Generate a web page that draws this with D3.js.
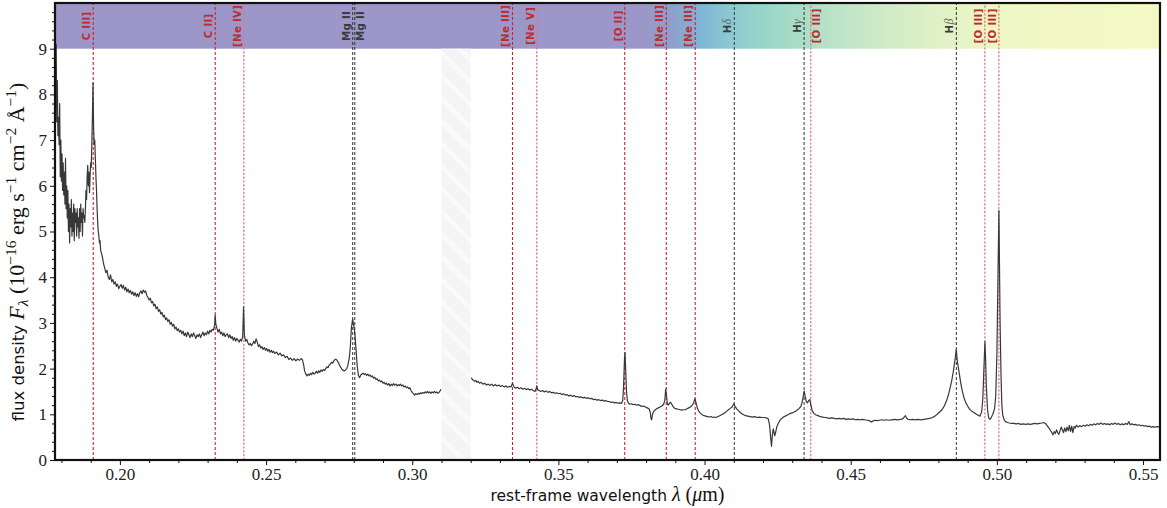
<!DOCTYPE html>
<html>
<head>
<meta charset="utf-8">
<script src="https://cdn.jsdelivr.net/npm/d3@7"></script>
<style>
  body { margin: 0; background: #fff; }
  svg { display: block; }
</style>
</head>
<body>
<svg id="chart" width="1167" height="508"></svg>
<script>
// ---------------- data ----------------
const xTickValues = [0.20, 0.25, 0.30, 0.35, 0.40, 0.45, 0.50, 0.55];
const yTickValues = [0, 1, 2, 3, 4, 5, 6, 7, 8, 9];

// emission-line markers (rest wavelength in micron)
const lineLabels = ["C III]", "C II]", "[Ne IV]", "Mg II", "Mg II", "[Ne III]", "[Ne V]", "[O II]",
                    "[Ne III]", "[Ne III]", "H\u03b4", "H\u03b3", "[O III]", "H\u03b2", "[O III]", "[O III]"];
const lineWaves  = [0.19087, 0.2326, 0.2424, 0.27964, 0.28035, 0.33430, 0.34260, 0.37270,
                    0.38690, 0.39680, 0.41017, 0.43405, 0.43632, 0.48613, 0.49589, 0.50068];
const lineKinds  = ["red", "red", "pale", "black", "black", "red", "pale", "red",
                    "red", "red", "black", "black", "pale", "black", "pale", "pale"];

// colour band along the top (wavelength, colour)
const bandStopWaves  = [0.1778, 0.378, 0.388, 0.398, 0.410, 0.424, 0.450, 0.476, 0.500, 0.5558];
const bandStopColors = ["#9c97c8", "#9c97c8", "#8f9fcb", "#7fb3d6", "#8ecbd2", "#9dd8c7",
                        "#c3e6c8", "#ddf0c6", "#eef7c5", "#f3f8c6"];

// masked wavelength interval
const maskRange = [0.310, 0.320];

// observed spectrum: [wavelength (micron), F_lambda (1e-16 erg/s/cm2/A)]
const spectrum = [
[0.1778,9.55],[0.1780,8.6],[0.1782,9.1],[0.1784,7.4],[0.1786,8.3],[0.1788,7.1],[0.1790,7.5],[0.1792,6.9],
[0.1794,7.8],[0.1796,6.2],[0.1798,7.0],[0.1800,6.1],[0.1802,6.7],[0.1804,5.9],[0.1806,6.5],[0.1808,5.8],
[0.1810,6.3],[0.1812,5.6],[0.1814,6.6],[0.1816,5.5],[0.1818,6.0],[0.1820,5.3],[0.1822,5.9],[0.1824,5.0],
[0.1826,5.6],[0.1828,4.75],[0.1830,5.5],[0.1832,5.1],[0.1834,5.7],[0.1836,4.9],[0.1838,5.4],[0.1840,5.0],
[0.1842,5.6],[0.1844,4.8],[0.1846,5.5],[0.1848,5.2],[0.1850,5.4],[0.1852,4.9],[0.1854,5.5],[0.1856,5.1],
[0.1858,5.3],[0.1860,4.85],[0.1862,5.5],[0.1864,5.0],[0.1866,5.6],[0.1868,5.2],[0.1870,5.4],[0.1872,4.9],
[0.1874,5.5],[0.1876,5.3],[0.1878,5.35],[0.1880,5.2],[0.1882,5.5],[0.1884,5.9],[0.1886,5.7],[0.1888,6.2],
[0.1890,6.45],[0.1892,6.0],[0.1894,6.3],[0.1896,5.85],[0.1898,6.2],[0.1900,6.5],[0.1902,6.4],[0.1904,6.9],
[0.1906,7.5],[0.1908,8.25],[0.1910,7.3],[0.1912,6.9],[0.1914,7.0],[0.1916,6.6],[0.1918,6.2],[0.1920,5.9],
[0.1922,5.5],[0.1924,5.2],[0.1926,5.0],[0.1928,4.9],[0.1930,4.75],[0.1932,4.8],[0.1934,4.6],[0.1936,4.55],
[0.1940,4.45],[0.1944,4.3],[0.1948,4.2],[0.1952,4.1],[0.1956,4.15],[0.1960,4.0],[0.1964,3.95],[0.1968,4.05],
[0.1972,3.9],[0.1976,3.95],[0.1980,3.85],[0.1984,3.9],[0.1988,3.8],[0.1992,3.85],[0.1996,3.75],[0.2000,3.8],
[0.2004,3.84],[0.2008,3.76],[0.2012,3.82],[0.2016,3.72],[0.2020,3.78],[0.2024,3.68],[0.2028,3.74],[0.2032,3.66],
[0.2036,3.71],[0.2040,3.63],[0.2044,3.68],[0.2048,3.6],[0.2052,3.66],[0.2056,3.58],[0.2060,3.64],[0.2064,3.57],
[0.2068,3.66],[0.2072,3.7],[0.2076,3.64],[0.2080,3.72],[0.2084,3.67],[0.2088,3.7],[0.2092,3.6],[0.2096,3.56],
[0.2100,3.5],[0.2104,3.54],[0.2108,3.44],[0.2112,3.47],[0.2116,3.37],[0.2120,3.41],[0.2124,3.31],[0.2128,3.35],
[0.2132,3.25],[0.2136,3.29],[0.2140,3.19],[0.2144,3.23],[0.2148,3.13],[0.2152,3.17],[0.2156,3.07],[0.2160,3.11],
[0.2164,3.03],[0.2168,3.07],[0.2172,2.97],[0.2176,3.01],[0.2180,2.93],[0.2184,2.97],[0.2188,2.87],[0.2192,2.91],
[0.2196,2.83],[0.2200,2.87],[0.2204,2.8],
[0.2208,2.84],[0.2212,2.76],[0.2216,2.82],[0.2220,2.72],[0.2224,2.78],[0.2228,2.7],[0.2232,2.8],[0.2236,2.74],
[0.2240,2.68],[0.2244,2.76],[0.2248,2.7],[0.2252,2.78],[0.2256,2.72],[0.2260,2.66],[0.2264,2.74],[0.2268,2.7],
[0.2272,2.76],[0.2276,2.68],[0.2280,2.74],[0.2284,2.8],[0.2288,2.72],[0.2292,2.78],[0.2296,2.74],[0.2300,2.82],
[0.2304,2.76],[0.2308,2.84],[0.2312,2.8],[0.2316,2.86],[0.2320,2.84],[0.2324,2.95],[0.2326,3.17],[0.2328,2.98],
[0.2332,2.88],[0.2336,2.8],[0.2340,2.86],[0.2344,2.76],[0.2348,2.8],[0.2352,2.72],[0.2356,2.78],[0.2360,2.7],
[0.2364,2.74],[0.2368,2.76],[0.2372,2.68],[0.2376,2.74],[0.2380,2.66],[0.2384,2.7],[0.2388,2.62],[0.2392,2.68],
[0.2396,2.6],[0.2400,2.66],[0.2404,2.62],[0.2408,2.58],[0.2412,2.64],[0.2416,2.6],[0.2420,2.7],[0.2423,3.35],
[0.2426,2.72],[0.2430,2.6],[0.2434,2.64],[0.2438,2.56],[0.2442,2.52],[0.2446,2.55],[0.2450,2.5],[0.2454,2.54],
[0.2458,2.6],[0.2462,2.55],[0.2466,2.65],[0.2470,2.58],[0.2474,2.48],[0.2478,2.52],[0.2482,2.45],[0.2486,2.48],
[0.2490,2.42],[0.2494,2.46],[0.2498,2.4],[0.2502,2.44],[0.2506,2.38],[0.2510,2.42],[0.2514,2.36],[0.2518,2.4],
[0.2522,2.35],[0.2526,2.38],[0.2530,2.33],[0.2536,2.36],[0.2542,2.3],[0.2548,2.34],[0.2554,2.28],[0.2560,2.3],
[0.2566,2.24],[0.2572,2.27],[0.2578,2.2],[0.2584,2.23],[0.2590,2.18],[0.2596,2.22],[0.2602,2.17],[0.2608,2.21],
[0.2614,2.18],[0.2620,2.22],[0.2624,2.2],[0.2628,2.1],[0.2632,1.95],[0.2636,1.88],[0.2640,1.84],[0.2644,1.88],
[0.2648,1.85],[0.2652,1.9],[0.2656,1.87],[0.2660,1.92],[0.2664,1.88],[0.2668,1.9],[0.2672,1.94],[0.2676,1.9],
[0.2680,1.95],[0.2684,1.92],[0.2688,1.97],[0.2692,1.94],[0.2696,1.98],[0.2700,1.96],[0.2704,2.0],[0.2708,2.04],
[0.2712,2.02],[0.2716,2.08],[0.2720,2.1],[0.2724,2.14],[0.2728,2.12],[0.2732,2.17],[0.2736,2.2],[0.2740,2.2],
[0.2744,2.17],[0.2748,2.12],[0.2752,2.07],[0.2756,2.02],[0.2760,1.98],[0.2764,1.96],[0.2768,1.95],[0.2772,1.97],
[0.2776,2.0],[0.2780,2.08],[0.2784,2.2],[0.2788,2.45],[0.2792,2.9],[0.2796,3.08],[0.2800,2.95],[0.2804,2.75],
[0.2808,2.4],[0.2812,2.05],[0.2816,1.85],[0.2820,1.8],[0.2824,1.86],[0.2828,1.88],[0.2832,1.9],[0.2836,1.87],
[0.2840,1.89],[0.2844,1.85],[0.2848,1.88],[0.2852,1.84],[0.2856,1.86],[0.2860,1.82],[0.2864,1.84],[0.2868,1.79],
[0.2872,1.81],[0.2876,1.76],[0.2880,1.78],[0.2884,1.73],[0.2888,1.75],[0.2892,1.71],[0.2896,1.73],[0.2900,1.68],
[0.2904,1.7],[0.2908,1.66],[0.2912,1.68],[0.2916,1.64],[0.2920,1.67],[0.2924,1.62],[0.2928,1.66],[0.2932,1.63],
[0.2936,1.67],[0.2940,1.64],[0.2944,1.66],[0.2948,1.62],[0.2952,1.65],[0.2956,1.63],[0.2960,1.66],[0.2964,1.62],
[0.2968,1.64],[0.2972,1.6],[0.2976,1.62],[0.2980,1.58],[0.2984,1.6],[0.2988,1.56],[0.2992,1.58],[0.2996,1.52],
[0.3000,1.48],[0.3004,1.45],[0.3008,1.42],[0.3012,1.45],[0.3016,1.43],[0.3020,1.46],[0.3024,1.44],[0.3028,1.47],
[0.3032,1.45],[0.3036,1.48],[0.3040,1.46],[0.3044,1.49],[0.3048,1.47],[0.3052,1.5],[0.3056,1.47],[0.3060,1.49],
[0.3064,1.46],[0.3068,1.49],[0.3072,1.47],[0.3076,1.5],[0.3080,1.47],[0.3084,1.49],[0.3088,1.46],[0.3092,1.48],
[0.3096,1.52],[0.3098,1.55],
[0.3202,1.8],[0.3206,1.76],[0.3210,1.74],[0.3214,1.72],[0.3218,1.74],[0.3222,1.7],[0.3226,1.72],[0.3230,1.68],
[0.3236,1.7],[0.3242,1.66],[0.3248,1.68],[0.3254,1.64],[0.3260,1.66],[0.3266,1.63],[0.3272,1.66],[0.3278,1.62],
[0.3284,1.65],[0.3290,1.62],[0.3296,1.64],[0.3302,1.61],[0.3308,1.63],[0.3314,1.6],[0.3320,1.62],[0.3326,1.59],
[0.3332,1.61],[0.3338,1.6],[0.3343,1.68],[0.3348,1.6],[0.3354,1.57],[0.3360,1.59],[0.3366,1.56],[0.3372,1.58],
[0.3378,1.55],[0.3384,1.57],[0.3390,1.54],[0.3396,1.56],[0.3402,1.53],[0.3408,1.55],[0.3414,1.52],[0.3420,1.5],
[0.3424,1.56],[0.3426,1.62],[0.3429,1.54],[0.3434,1.52],[0.3440,1.5],[0.3446,1.52],[0.3452,1.49],[0.3458,1.51],
[0.3464,1.48],[0.3470,1.5],[0.3476,1.47],[0.3482,1.48],[0.3488,1.46],[0.3494,1.47],[0.3500,1.45],[0.3506,1.46],
[0.3512,1.43],[0.3518,1.45],[0.3524,1.42],[0.3530,1.43],[0.3536,1.4],[0.3542,1.42],[0.3548,1.39],[0.3554,1.41],
[0.3560,1.38],[0.3566,1.39],[0.3572,1.37],[0.3578,1.38],[0.3584,1.36],[0.3590,1.37],[0.3596,1.35],[0.3602,1.36],
[0.3608,1.34],[0.3614,1.35],[0.3620,1.32],[0.3626,1.33],[0.3632,1.31],[0.3638,1.32],[0.3644,1.3],[0.3650,1.31],
[0.3656,1.29],[0.3662,1.3],[0.3668,1.28],[0.3674,1.28],[0.3680,1.26],[0.3686,1.27],[0.3692,1.25],[0.3698,1.26],
[0.3704,1.24],[0.3710,1.25],[0.3716,1.24],[0.3720,1.3],[0.3723,1.6],[0.3726,2.2],[0.3728,2.35],[0.3730,2.0],
[0.3733,1.5],[0.3736,1.3],[0.3740,1.24],
[0.3744,1.22],[0.3750,1.23],[0.3756,1.21],[0.3762,1.22],[0.3768,1.2],[0.3774,1.21],[0.3780,1.19],[0.3786,1.17],
[0.3792,1.18],[0.3798,1.16],[0.3804,1.14],[0.3810,1.12],[0.3814,1.05],[0.3817,0.9],[0.3819,0.88],[0.3822,1.0],
[0.3826,1.06],[0.3830,1.09],[0.3836,1.12],[0.3842,1.14],[0.3848,1.16],[0.3854,1.18],[0.3860,1.22],[0.3864,1.3],
[0.3867,1.55],[0.3870,1.4],[0.3873,1.22],[0.3876,1.2],[0.3880,1.24],[0.3884,1.26],[0.3888,1.22],[0.3892,1.17],
[0.3898,1.13],[0.3904,1.12],[0.3910,1.11],[0.3916,1.1],[0.3922,1.09],[0.3928,1.1],[0.3934,1.1],[0.3940,1.12],
[0.3946,1.14],[0.3952,1.16],[0.3958,1.2],[0.3963,1.26],[0.3967,1.34],[0.3971,1.25],[0.3976,1.12],[0.3980,1.07],
[0.3986,1.02],[0.3992,0.99],[0.3998,0.97],[0.4004,0.96],[0.4010,0.95],[0.4016,0.94],[0.4022,0.95],[0.4028,0.93],
[0.4034,0.94],[0.4040,0.93],[0.4046,0.95],[0.4052,0.97],[0.4058,0.99],[0.4064,1.01],[0.4070,1.04],[0.4076,1.07],
[0.4082,1.1],[0.4088,1.13],[0.4094,1.16],[0.4100,1.23],[0.4104,1.18],[0.4110,1.12],[0.4116,1.08],[0.4122,1.04],
[0.4128,1.01],[0.4134,0.99],[0.4140,0.97],[0.4148,0.96],[0.4156,0.95],[0.4164,0.94],[0.4172,0.95],[0.4180,0.93],
[0.4188,0.94],[0.4196,0.93],[0.4204,0.93],[0.4212,0.92],[0.4218,0.9],[0.4222,0.78],[0.4226,0.5],[0.4229,0.3],
[0.4232,0.55],[0.4235,0.68],[0.4238,0.6],[0.4240,0.53],[0.4243,0.6],[0.4247,0.72],[0.4252,0.8],[0.4258,0.87],
[0.4264,0.91],[0.4270,0.94],[0.4276,0.96],[0.4282,0.98],[0.4288,1.0],[0.4294,1.02],[0.4300,1.03],[0.4306,1.05],
[0.4312,1.07],[0.4318,1.1],[0.4324,1.13],[0.4330,1.18],[0.4335,1.3],[0.4339,1.45],[0.4341,1.51],[0.4344,1.4],
[0.4348,1.28],[0.4352,1.25],[0.4356,1.3],[0.4360,1.32],[0.4364,1.2],[0.4368,1.08],[0.4374,1.02],[0.4380,0.99],
[0.4388,0.97],[0.4396,0.95],[0.4404,0.94],[0.4412,0.93],[0.4420,0.92],[0.4428,0.91],[0.4436,0.92],[0.4444,0.91],
[0.4452,0.9],[0.4460,0.91],[0.4468,0.9],[0.4476,0.91],[0.4484,0.89],[0.4492,0.9],[0.4500,0.89],[0.4508,0.9],
[0.4516,0.88],[0.4524,0.89],[0.4532,0.88],[0.4540,0.89],[0.4548,0.88],[0.4556,0.87],[0.4564,0.86],[0.4570,0.83],
[0.4576,0.85],[0.4582,0.87],[0.4590,0.86],[0.4598,0.87],[0.4606,0.88],[0.4614,0.87],[0.4622,0.88],[0.4630,0.87],
[0.4640,0.88],[0.4650,0.89],[0.4660,0.88],[0.4670,0.89],[0.4678,0.9],[0.4684,0.95],[0.4687,0.97],[0.4691,0.92],
[0.4696,0.89],[0.4704,0.88],[0.4712,0.89],[0.4720,0.88],[0.4730,0.89],[0.4740,0.88],[0.4750,0.89],[0.4760,0.9],
[0.4770,0.91],[0.4780,0.93],[0.4788,0.96],[0.4796,1.0],[0.4804,1.05],[0.4812,1.1],[0.4820,1.18],[0.4828,1.3],
[0.4834,1.42],[0.4840,1.58],[0.4846,1.75],[0.4852,1.98],[0.4857,2.2],[0.4861,2.42],[0.4865,2.15],[0.4870,1.95],
[0.4876,1.7],[0.4882,1.5],[0.4888,1.35],[0.4894,1.25],[0.4900,1.18],[0.4906,1.12],[0.4912,1.08],[0.4918,1.05],
[0.4924,1.03],[0.4930,1.0],[0.4936,0.98],[0.4942,0.96],[0.4948,1.05],[0.4952,1.35],[0.4955,1.9],[0.4958,2.4],
[0.4959,2.59],[0.4961,2.3],[0.4964,1.6],[0.4968,1.1],[0.4972,0.92],[0.4976,0.89],[0.4980,0.92],[0.4986,1.0],
[0.4992,1.12],[0.4996,1.4],[0.5000,2.3],[0.5003,3.7],[0.5005,4.6],[0.5007,5.46],[0.5009,4.2],[0.5011,3.0],
[0.5014,1.9],[0.5017,1.2],[0.5020,0.98],[0.5025,0.88],[0.5030,0.84],[0.5036,0.82],[0.5042,0.81],[0.5050,0.8],
[0.5058,0.8],[0.5066,0.79],[0.5074,0.8],[0.5082,0.78],[0.5090,0.79],[0.5098,0.78],[0.5106,0.79],[0.5114,0.78],
[0.5122,0.79],[0.5130,0.8],[0.5138,0.79],[0.5146,0.8],[0.5154,0.81],[0.5160,0.82],[0.5166,0.8],[0.5172,0.75],
[0.5178,0.7],[0.5184,0.64],[0.5188,0.6],[0.5192,0.55],[0.5196,0.62],[0.5200,0.58],[0.5204,0.66],[0.5208,0.6],
[0.5212,0.56],[0.5216,0.64],[0.5220,0.72],[0.5224,0.66],[0.5228,0.6],[0.5232,0.7],[0.5236,0.62],[0.5240,0.72],
[0.5244,0.64],[0.5248,0.76],[0.5252,0.62],[0.5256,0.74],[0.5260,0.6],[0.5264,0.73],[0.5268,0.7],[0.5272,0.76],
[0.5278,0.72],[0.5284,0.75],[0.5290,0.73],[0.5296,0.76],[0.5302,0.74],[0.5308,0.77],[0.5314,0.75],[0.5320,0.78],
[0.5326,0.76],[0.5332,0.79],[0.5338,0.77],[0.5344,0.8],[0.5350,0.78],[0.5356,0.81],[0.5362,0.78],[0.5368,0.8],
[0.5374,0.78],[0.5380,0.79],[0.5386,0.77],[0.5392,0.8],[0.5398,0.78],[0.5404,0.81],[0.5410,0.78],[0.5416,0.8],
[0.5422,0.77],[0.5428,0.79],[0.5434,0.77],[0.5440,0.8],[0.5446,0.78],[0.5452,0.84],[0.5456,0.77],[0.5462,0.79],
[0.5468,0.77],[0.5474,0.78],[0.5480,0.76],[0.5486,0.77],[0.5492,0.75],[0.5498,0.76],[0.5504,0.74],[0.5510,0.75],
[0.5516,0.73],[0.5522,0.74],[0.5528,0.72],[0.5534,0.73],[0.5540,0.72],[0.5550,0.73],[0.5558,0.72]
];

// ---------------- layout ----------------
const svg = d3.select("#chart");
const plot = { left: 55, right: 1160, top: 3, bottom: 460 };

const x = d3.scaleLinear().domain([0.1778, 0.5558]).range([plot.left, plot.right]);
const y = d3.scaleLinear().domain([0, 10]).range([plot.bottom, plot.top]);

const serif = "'Liberation Serif', 'Times New Roman', serif";
const sans = "'DejaVu Sans', 'Open Sans', sans-serif";

const defs = svg.append("defs");
defs.append("clipPath").attr("id", "plotClip")
  .append("rect")
  .attr("x", plot.left).attr("y", plot.top)
  .attr("width", plot.right - plot.left).attr("height", plot.bottom - plot.top);

// gradient for the top band
const grad = defs.append("linearGradient")
  .attr("id", "bandGrad")
  .attr("gradientUnits", "userSpaceOnUse")
  .attr("x1", x(bandStopWaves[0])).attr("x2", x(bandStopWaves[bandStopWaves.length - 1]))
  .attr("y1", 0).attr("y2", 0);
bandStopWaves.forEach((w, i) => {
  grad.append("stop")
    .attr("offset", (w - bandStopWaves[0]) / (bandStopWaves[bandStopWaves.length - 1] - bandStopWaves[0]))
    .attr("stop-color", bandStopColors[i]);
});

// hatch for the masked interval
const hatch = defs.append("pattern")
  .attr("id", "hatch").attr("patternUnits", "userSpaceOnUse")
  .attr("width", 16).attr("height", 16)
  .attr("patternTransform", "rotate(-45)");
hatch.append("rect").attr("width", 16).attr("height", 16).attr("fill", "#f4f4f4");
hatch.append("rect").attr("x", 0).attr("width", 5).attr("height", 16).attr("fill", "#fafafa");

const g = svg.append("g").attr("clip-path", "url(#plotClip)");

// top band
g.append("rect")
  .attr("x", plot.left).attr("y", y(10))
  .attr("width", plot.right - plot.left).attr("height", y(9) - y(10))
  .attr("fill", "url(#bandGrad)");

// masked interval
g.append("rect")
  .attr("x", x(maskRange[0])).attr("y", y(9))
  .attr("width", x(maskRange[1]) - x(maskRange[0])).attr("height", y(0) - y(9))
  .attr("fill", "url(#hatch)");

// line markers
const lineStyle = {
  red:   { stroke: "#c0262d", dash: "3,2", width: 1.1 },
  pale:  { stroke: "#df7a7e", dash: "2.2,1.6", width: 1.3 },
  black: { stroke: "#333333", dash: "3,2", width: 1.0 }
};
const markers = lineWaves.map((w, i) => ({ w, label: lineLabels[i], kind: lineKinds[i] }));

g.selectAll("line.marker").data(markers).join("line")
  .attr("class", "marker")
  .attr("x1", d => x(d.w)).attr("x2", d => x(d.w))
  .attr("y1", y(0)).attr("y2", y(10))
  .attr("stroke", d => lineStyle[d.kind].stroke)
  .attr("stroke-width", d => lineStyle[d.kind].width)
  .attr("stroke-dasharray", d => lineStyle[d.kind].dash);

// spectrum, broken across the masked interval
const line = d3.line().x(d => x(d[0])).y(d => y(d[1]));
const segments = [];
let current = [];
spectrum.forEach((p, i) => {
  if (i > 0 && p[0] - spectrum[i - 1][0] > 0.005) { segments.push(current); current = []; }
  current.push(p);
});
segments.push(current);
g.selectAll("path.spec").data(segments).join("path")
  .attr("class", "spec")
  .attr("d", line)
  .attr("fill", "none")
  .attr("stroke", "#383838")
  .attr("stroke-width", 1.2)
  .attr("stroke-linejoin", "round");

// rotated marker labels (left of the marker unless it collides with the previous one)
const labelY = y(9.5);
let prevRight = -Infinity;
markers.forEach(d => {
  const lx = x(d.w);
  let base = lx - 3;
  if (base - 9 < prevRight) base = lx + 9.5;
  prevRight = base + 2;
  const t = g.append("text")
    .attr("transform", `translate(${base},${labelY}) rotate(-90)`)
    .attr("text-anchor", "middle")
    .attr("font-family", sans)
    .attr("font-size", 10.2)
    .attr("font-weight", "bold")
    .attr("letter-spacing", 0.3)
    .attr("fill", d.kind === "black" ? "#3a3a3a" : "#bf2a2f");
  if (d.label.startsWith("H")) {
    t.append("tspan").text("H");
    t.append("tspan").attr("font-family", serif).attr("font-style", "italic")
      .attr("font-weight", "normal").attr("font-size", 12).attr("fill", "#666").text(d.label.slice(1));
  } else {
    t.text(d.label);
  }
});

// ---------------- axes ----------------
const xAxis = svg.append("g").attr("transform", `translate(0,${plot.bottom})`)
  .call(d3.axisBottom(x).tickValues(xTickValues).tickFormat(d3.format(".2f")).tickSize(5).tickPadding(3));
const xMinor = svg.append("g").attr("transform", `translate(0,${plot.bottom})`)
  .call(d3.axisBottom(x).tickValues(d3.range(18, 56).map(v => v / 100).filter(v => Math.round(v * 100) % 5 !== 0))
    .tickFormat("").tickSize(3));

const yAxis = svg.append("g").attr("transform", `translate(${plot.left},0)`)
  .call(d3.axisLeft(y).tickValues(yTickValues).tickFormat(d3.format("d")).tickSize(5).tickPadding(3));
const yMinor = svg.append("g").attr("transform", `translate(${plot.left},0)`)
  .call(d3.axisLeft(y).tickValues(d3.range(0, 50).map(v => v / 5).filter(v => Math.abs(v - Math.round(v)) > 1e-6))
    .tickFormat("").tickSize(3));

[xAxis, xMinor, yAxis, yMinor].forEach(a => {
  a.select(".domain").remove();
  a.selectAll(".tick line").attr("stroke", "#111").attr("stroke-width", 1);
  a.selectAll(".tick text").attr("font-family", serif).attr("font-size", 17).attr("fill", "#222");
});

// frame
svg.append("rect")
  .attr("x", plot.left).attr("y", plot.top)
  .attr("width", plot.right - plot.left).attr("height", plot.bottom - plot.top)
  .attr("fill", "none").attr("stroke", "#111").attr("stroke-width", 2.2);

// axis titles
const xt = svg.append("text")
  .attr("x", (plot.left + plot.right) / 2).attr("y", 501)
  .attr("text-anchor", "middle").attr("fill", "#111")
  .attr("font-family", sans).attr("font-size", 15.5);
xt.append("tspan").text("rest-frame wavelength ");
xt.append("tspan").attr("font-family", serif).attr("font-style", "italic").attr("font-size", 20).text("\u03bb");
xt.append("tspan").attr("font-family", serif).attr("font-size", 20).text(" (");
xt.append("tspan").attr("font-family", serif).attr("font-style", "italic").attr("font-size", 20).text("\u03bc");
xt.append("tspan").attr("font-family", serif).attr("font-size", 20).text("m)");

const yt = svg.append("text")
  .attr("transform", `translate(24,252) rotate(-90)`)
  .attr("text-anchor", "middle").attr("fill", "#111")
  .attr("font-family", serif).attr("font-size", 22);
yt.append("tspan").attr("font-family", sans).attr("font-size", 16.5).text("flux density ");
yt.append("tspan").attr("font-style", "italic").text("F");
yt.append("tspan").attr("font-style", "italic").attr("font-size", 15.5).attr("dy", 4).text("\u03bb");
yt.append("tspan").attr("dy", -4).text(" (10");
yt.append("tspan").attr("font-size", 15.5).attr("dy", -8).text("\u221216");
yt.append("tspan").attr("dy", 8).text(" erg s");
yt.append("tspan").attr("font-size", 15.5).attr("dy", -8).text("\u22121");
yt.append("tspan").attr("dy", 8).text(" cm");
yt.append("tspan").attr("font-size", 15.5).attr("dy", -8).text("\u22122");
yt.append("tspan").attr("dy", 8).text(" \u00c5");
yt.append("tspan").attr("font-size", 15.5).attr("dy", -8).text("\u22121");
yt.append("tspan").attr("dy", 8).text(")");
</script>
</body>
</html>
